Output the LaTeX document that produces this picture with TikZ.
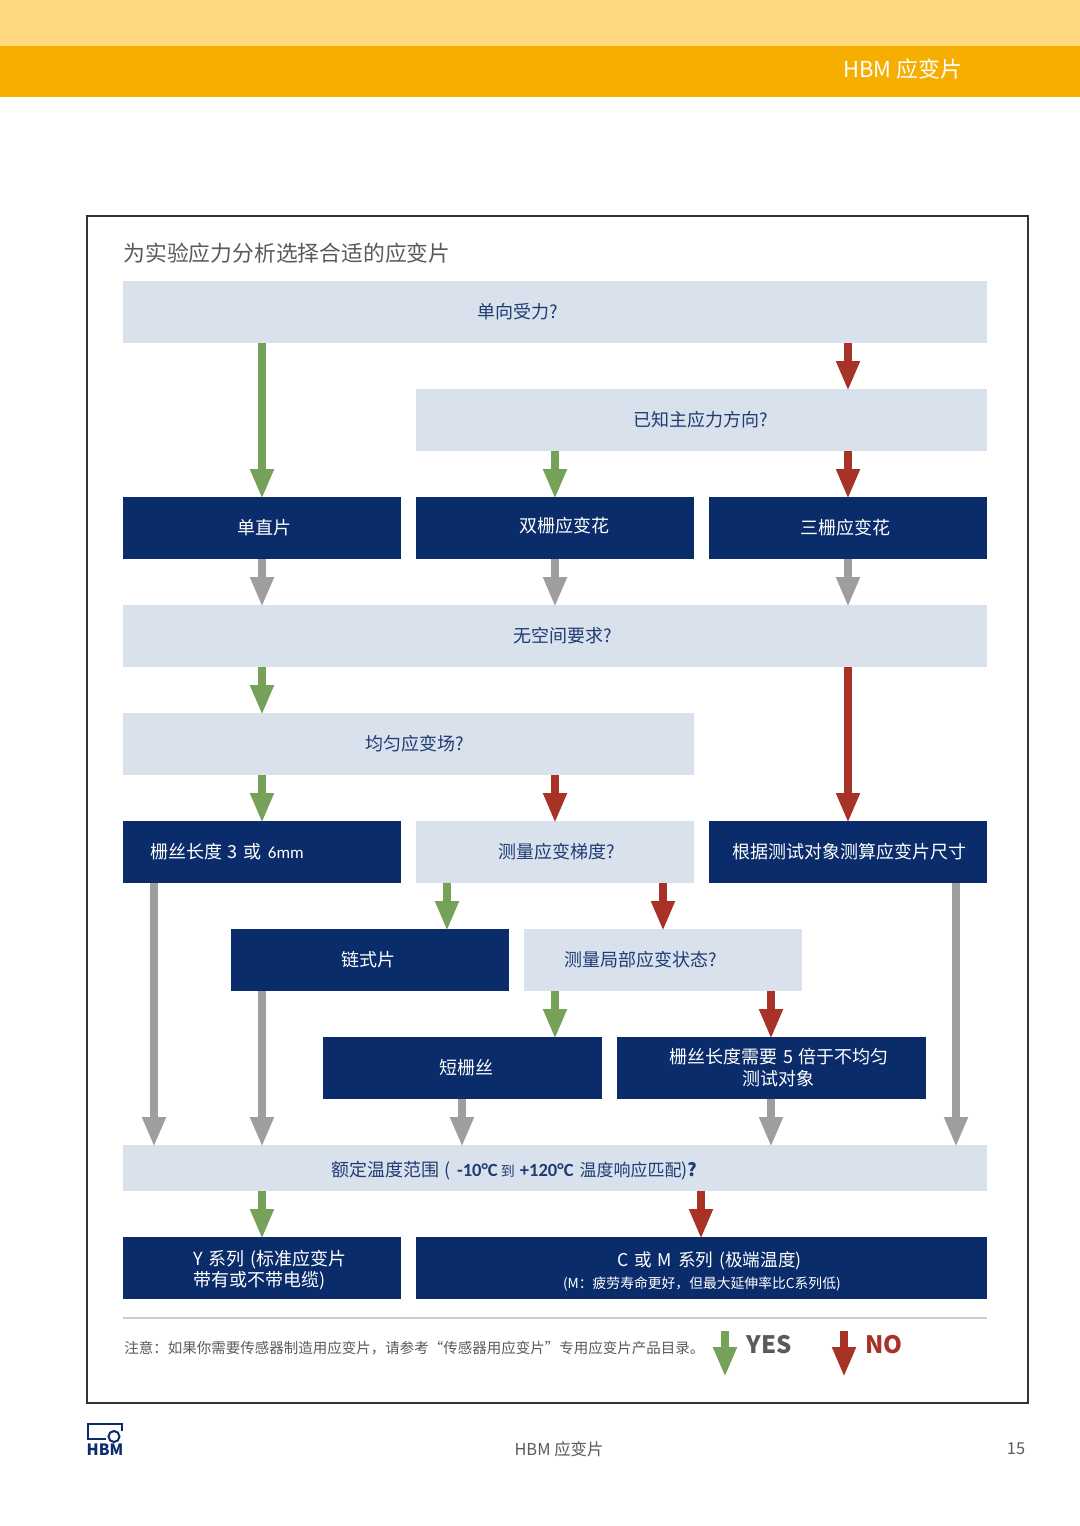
\documentclass[tikz,border=0pt]{standalone}
\usepackage{fontspec}
\setmainfont{Noto Sans CJK SC}
\newfontfamily\narrowlatin{Carlito}
\usetikzlibrary{arrows.meta}
\definecolor{navy}{HTML}{0B2C6B}
\definecolor{pale}{HTML}{D9E1EC}
\definecolor{asktext}{HTML}{1F3C74}
\definecolor{yesgreen}{HTML}{76A158}
\definecolor{nored}{HTML}{A93226}
\definecolor{flowgray}{HTML}{9E9E9E}
\definecolor{noteink}{HTML}{5A5A5A}
\definecolor{bandlight}{HTML}{FFD97F}
\definecolor{bandstrong}{HTML}{F6AE00}
\newcommand{\tx}[1]{\hspace*{#1pt}}
\newcommand{\tempfig}[1]{{\narrowlatin\bfseries\fontsize{9.3}{11}\selectfont #1}}
\tikzset{
  panel/.style={inner sep=0pt, outer sep=0pt, align=left, text width=#1*0.5pt, minimum width=#1*0.5pt, minimum height=31pt, font=\fontsize{9}{11}\selectfont},
  ask/.style={panel=#1, fill=pale, text=asktext},
  result/.style={panel=#1, fill=navy, text=white},
  flow/.style={line width=4pt, -{Triangle[length=15pt,width=11pt]}, shorten >=-1pt},
  yes/.style={flow, draw=yesgreen},
  no/.style={flow, draw=nored},
  next/.style={flow, draw=flowgray},
}
\begin{document}
\begin{tikzpicture}[x=0.5pt, y=-0.5pt]
 \useasboundingbox (0,0) rectangle (1080,1526);
 % page bands
 \fill [white] (0,0) rectangle (1080,1526);
 \fill [bandlight] (0,0) rectangle (1080,46);
 \fill [bandstrong] (0,46) rectangle (1080,97);
 \node (head) [text=white, font=\fontsize{11}{13}\selectfont] at (903,69) {HBM 应变片};
 \draw [line width=1pt, draw=black!80] (87,216) rectangle (1028,1403);
 \node (title) [anchor=west, inner sep=0pt, text=noteink, font=\fontsize{10.9}{13}\selectfont] at (123,253) {为实验应力分析选择合适的应变片};

 % questions and results
 \node (q1) [ask=864] at (555,312) {\tx{177}单向受力?};
 \node (q2) [ask=571] at (701.5,420) {\tx{108.5}已知主应力方向?};
 \node (b1) [result=278] at (262,528) {\tx{57}单直片};
 \node (b2) [result=278] at (555,528) {\tx{51.5}\raisebox{0.5pt}[7pt][2pt]{双栅应变花}};
 \node (b3) [result=278] at (848,528) {\tx{45.5}三栅应变花};
 \node (q3) [ask=864] at (555,636) {\tx{195}无空间要求?};
 \node (q4) [ask=571] at (408.5,744) {\tx{121}均匀应变场?};
 \node (b4) [result=278] at (262,852) {\tx{13.5}栅丝长度 3 或 {\narrowlatin\fontsize{8.5}{11}\selectfont 6mm}};
 \node (q5) [ask=278] at (555,852) {\tx{41}测量应变梯度?};
 \node (b5) [result=278] at (848,852) {\tx{11.5}根据测试对象测算应变片尺寸};
 \node (b6) [result=278] at (370,960) {\tx{55}链式片};
 \node (q6) [ask=278] at (663,960) {\tx{20}测量局部应变状态?};
 \node (b7) [result=279] at (462.5,1068) {\tx{58}短栅丝};
 \node (b8) [result=309] at (771.5,1068) {\tx{26}栅丝长度需要 5 倍于不均匀\\\tx{62.5}测试对象};
 \node (q7) [ask=864, minimum height=23pt] at (555,1168) {\tx{104}\raisebox{-1.5pt}[7pt][2pt]{额定温度范围 (\hspace{3pt}\tempfig{-10°C}\,{\fontsize{7}{9}\selectfont 到}\hspace{2.5pt}\tempfig{+120°C}\hspace{3pt}{\fontsize{8.5}{11}\selectfont 温度响应匹配}){\bfseries ?}}};
 \node (b9) [result=278] at (262,1268) {\tx{35}\rule{0pt}{9.5pt}Y 系列 (标准应变片\\[-0.5pt]\tx{35}带有或不带电缆)};
 \node (b10) [result=571] at (701.5,1268) {\tx{100.5}\rule{0pt}{10.5pt}{\fontsize{8.8}{11}\selectfont C 或 M 系列 (极端温度)}\\\tx{73.5}{\fontsize{6.9}{8}\selectfont (M^^^^ff1a疲劳寿命更好^^^^ff0c但最大延伸率比C系列低)}};

 % arrows
 \draw [yes] (q1.south -| 262,0) -- (b1.north -| 262,0);
 \draw [no] (q1.south -| 848,0) -- (q2.north -| 848,0);
 \draw [yes] (q2.south -| 555,0) -- (b2.north -| 555,0);
 \draw [no] (q2.south -| 848,0) -- (b3.north -| 848,0);
 \draw [next] (b1.south -| 262,0) -- (q3.north -| 262,0);
 \draw [next] (b2.south -| 555,0) -- (q3.north -| 555,0);
 \draw [next] (b3.south -| 848,0) -- (q3.north -| 848,0);
 \draw [yes] (q3.south -| 262,0) -- (q4.north -| 262,0);
 \draw [no] (q3.south -| 848,0) -- (b5.north -| 848,0);
 \draw [yes] (q4.south -| 262,0) -- (b4.north -| 262,0);
 \draw [no] (q4.south -| 555,0) -- (q5.north -| 555,0);
 \draw [next] (b4.south -| 154,0) -- (q7.north -| 154,0);
 \draw [next] (b5.south -| 956,0) -- (q7.north -| 956,0);
 \draw [yes] (q5.south -| 447,0) -- (b6.north -| 447,0);
 \draw [no] (q5.south -| 663,0) -- (q6.north -| 663,0);
 \draw [next] (b6.south -| 262,0) -- (q7.north -| 262,0);
 \draw [yes] (q6.south -| 555,0) -- (b7.north -| 555,0);
 \draw [no] (q6.south -| 771,0) -- (b8.north -| 771,0);
 \draw [next] (b7.south -| 462,0) -- (q7.north -| 462,0);
 \draw [next] (b8.south -| 771,0) -- (q7.north -| 771,0);
 \draw [yes] (q7.south -| 262,0) -- (b9.north -| 262,0);
 \draw [no] (q7.south -| 701,0) -- (b10.north -| 701,0);

 % legend
 \coordinate (ruleL) at (123,1318);
 \coordinate (ruleR) at (987,1318);
 \draw [line width=1pt, draw=black!20] (ruleL) -- (ruleR);
 \node (note) [anchor=west, inner sep=0pt, text=noteink, font=\fontsize{7.25}{9}\selectfont] at (124,1348.5) {注意^^^^ff1a如果你需要传感器制造用应变片^^^^ff0c请参考“传感器用应变片”专用应变片产品目录。};
 \coordinate (yesA) at (725,1331);
 \coordinate (yesB) at (725,1375);
 \coordinate (noA) at (844,1331);
 \coordinate (noB) at (844,1375);
 \draw [yes] (yesA) -- (yesB);
 \draw [no] (noA) -- (noB);
 \node (yeslabel) [anchor=west, inner sep=0pt, text=noteink, font=\fontsize{12}{14}\selectfont\bfseries] at (746,1345) {YES};
 \node (nolabel) [anchor=west, inner sep=0pt, text=nored, font=\fontsize{12}{14}\selectfont\bfseries] at (865,1345) {NO};

 % footer
 \draw [navy, line width=1pt] (106,1439) -- (88,1439) -- (88,1424) -- (122,1424) -- (122,1431);
 \draw [navy, line width=1pt] (114,1436.5) circle [radius=5.5];
 \node (logo) [inner sep=0pt, text=navy, font=\fontsize{7.8}{8}\selectfont\bfseries] at (105,1450) {HBM};
 \node (foot) [text=noteink, font=\fontsize{8.2}{10}\selectfont] at (559,1449) {HBM 应变片};
 \node (page) [text=noteink, font=\fontsize{8.2}{10}\selectfont] at (1016,1449) {15};
\end{tikzpicture}
\end{document}
